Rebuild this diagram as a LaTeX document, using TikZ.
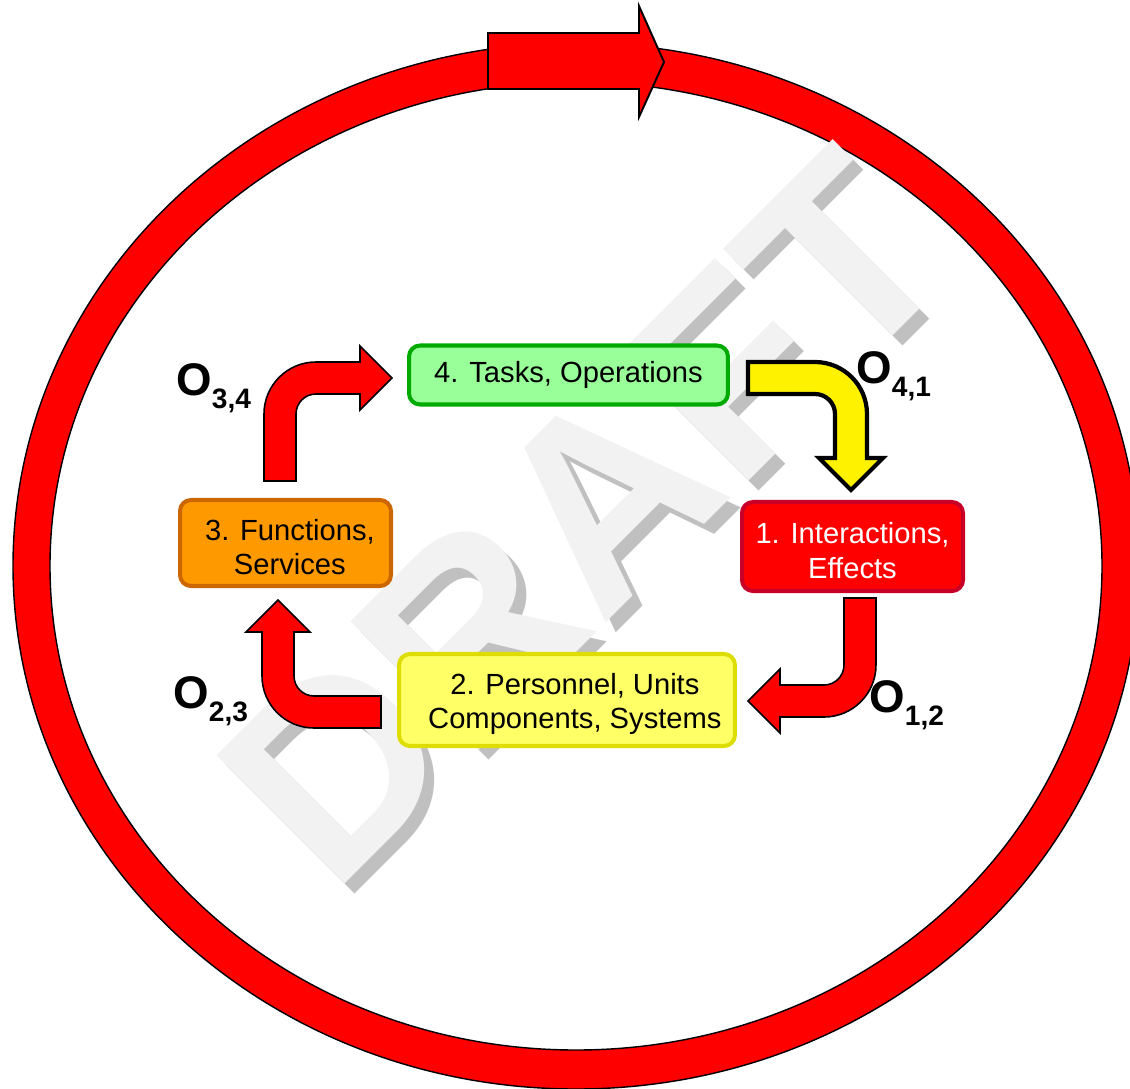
\documentclass[tikz,border=0pt]{standalone}
\usepackage{fontspec}
\setmainfont{Liberation Sans}
\usepackage{xcolor}
\usetikzlibrary{positioning}

\definecolor{boxgreen}{HTML}{99FF99}
\definecolor{linegreen}{HTML}{00AA00}
\definecolor{boxorange}{HTML}{FF9900}
\definecolor{lineorange}{HTML}{CC6600}
\definecolor{boxred}{HTML}{FF0000}
\definecolor{linered}{HTML}{C80028}
\definecolor{boxyellow}{HTML}{FFFF66}
\definecolor{lineyellow}{HTML}{DDDD00}
\definecolor{wmlight}{HTML}{F2F2F2}
\definecolor{wmshade}{HTML}{C0C0C0}

\newcommand{\olab}[1]{O\raisebox{-7.6pt}{\fontsize{16}{16}\selectfont #1}}
\newcommand{\topstrut}{\rule{0pt}{16.6pt}}

\begin{document}
\begin{tikzpicture}[x=0.02cm, y=0.02cm,
	box/.style={draw, line width=2.3pt, rounded corners=0.22cm, align=center, inner sep=0pt,
		font=\fontsize{16.6}{19.5}\selectfont},
	olab/.style={anchor=base west, inner sep=0pt, font=\fontsize{26}{26}\selectfont\bfseries},
	wmark/.style={rotate=45, inner sep=0pt, font=\fontsize{150}{150}\selectfont\bfseries},
	bent arrow/.pic={
		\path[pic actions] (-16,-103) -- (-16,-36) arc[start angle=180, end angle=90, radius=52]
			-- (80,16) -- (80,32) -- (112,0) -- (80,-32) -- (80,-16) -- (36,-16)
			arc[start angle=90, end angle=180, radius=20] -- (16,-103) -- cycle;
	}]
	\useasboundingbox (0,0) rectangle (1130,-1089);
	\clip (0,0) rectangle (1130,-1089);

	\filldraw[fill=red, draw=black, line width=0.8pt, even odd rule]
		(576,-566) ellipse [x radius=563, y radius=523]
		(576,-566) ellipse [x radius=526, y radius=484];
	\filldraw[fill=red, draw=black, line width=1.1pt]
		(488,-33) -- (639,-33) -- (639,-6) -- (664,-62) -- (639,-117) -- (639,-89) -- (488,-89) -- cycle;

	\node[wmark, text=wmshade] (wmshadow) at (594,-527) {DRAFT};
	\node[wmark, text=wmlight] (wm) at (584,-517) {DRAFT};

	\node[box, fill=boxgreen, draw=linegreen, minimum width=6.38cm, minimum height=1.18cm]
		(tasks) at (568.5,-375) {4. Tasks, Operations};
	\node[box, fill=boxorange, draw=lineorange, minimum width=4.22cm, minimum height=1.72cm]
		(funcs) at (285.5,-543) {\topstrut\hspace*{5pt}3. Functions,\\\hspace*{5pt}Services};
	\node[box, fill=boxred, draw=linered, text=white, minimum width=4.42cm, minimum height=1.78cm]
		(inter) at (852.5,-546.5) {\topstrut1. Interactions,\\Effects};
	\node[box, fill=boxyellow, draw=lineyellow, minimum width=6.72cm, minimum height=1.84cm]
		(pers) at (567,-700) {\topstrut\hspace*{9pt}2. Personnel, Units\\\hspace*{9pt}Components, Systems};

	\pic[fill=red, draw=black, line width=0.9pt] (a34) at (280,-378) {bent arrow};
	\pic[rotate=-90, fill=yellow, draw=black, line width=2.4pt] (a41) at (851,-378) {bent arrow};
	\pic[rotate=180, fill=red, draw=black, line width=0.9pt] (a12) at (860,-701) {bent arrow};
	\pic[rotate=90, fill=red, draw=black, line width=0.9pt] (a23) at (278,-712) {bent arrow};

	\node[olab] (o34) at (176,-395) {\olab{3,4}};
	\node[olab] (o41) at (856,-383) {\olab{4,1}};
	\node[olab] (o23) at (173,-708) {\olab{2,3}};
	\node[olab] (o12) at (869,-712) {\olab{1,2}};
\end{tikzpicture}
\end{document}
